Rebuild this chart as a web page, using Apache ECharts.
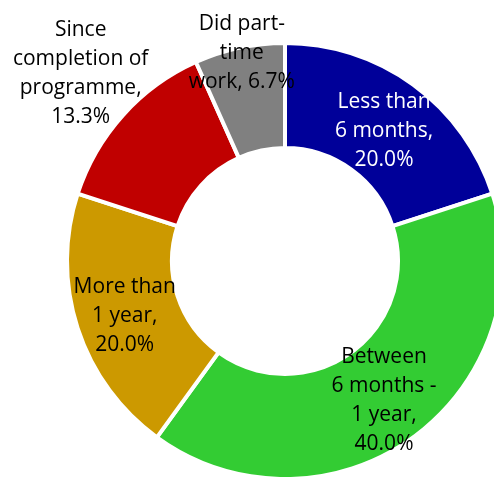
<!DOCTYPE html>
<html>
<head>
<meta charset="utf-8">
<script src="https://cdn.jsdelivr.net/npm/echarts@6/dist/echarts.min.js"></script>
<style>
  html, body { margin: 0; padding: 0; background: #fff; }
  #chart { width: 494px; height: 477px; }
</style>
</head>
<body>
<div id="chart"></div>
<script>
  // categories, clockwise from 12 o'clock
  const names = ['Less than 6 months', 'Between 6 months - 1 year', 'More than 1 year',
    'Since completion of programme', 'Did part-time work'];
  // how each label wraps in the original
  const labelNames = ['Less than\n6 months,\n', 'Between\n6 months -\n1 year,\n', 'More than\n1 year,\n',
    'Since\ncompletion of\nprogramme,\n', 'Did part-\ntime\nwork, '];
  const shares = [20.0, 40.0, 20.0, 13.3, 6.7];
  const colors = ['#000099', '#33cc33', '#cc9900', '#c00000', '#808080'];
  const textColors = ['#ffffff', '#000000', '#000000', '#000000', '#000000'];
  // the two small slices have their labels pushed outwards
  const labelShift = [[0, 6], [0, 3], [0, 3], [-79, -75], [-8, -43]];

  const myChart = echarts.init(document.getElementById('chart'));

  let pieData = [];
  for (let i = 0; i < names.length; i++) {
    pieData.push({
      name: names[i],
      value: shares[i],
      itemStyle: { color: colors[i] },
      label: { color: textColors[i] }
    });
  }

  let option = {
    animation: false,
    series: [
      {
        type: 'pie',
        center: [285, 261],
        radius: [113, 218],
        startAngle: 90,
        clockwise: true,
        itemStyle: {
          borderColor: '#ffffff',
          borderWidth: 4
        },
        label: {
          show: true,
          position: 'inside',
          fontFamily: 'Open Sans',
          fontSize: 21,
          lineHeight: 29,
          align: 'center',
          formatter: function (p) {
            return labelNames[p.dataIndex] + shares[p.dataIndex].toFixed(1) + '%';
          }
        },
        labelLine: { show: false },
        labelLayout: function (p) {
          return { dx: labelShift[p.dataIndex][0], dy: labelShift[p.dataIndex][1] };
        },
        emphasis: { disabled: true },
        data: pieData
      }
    ]
  };

  myChart.setOption(option);
</script>
</body>
</html>
